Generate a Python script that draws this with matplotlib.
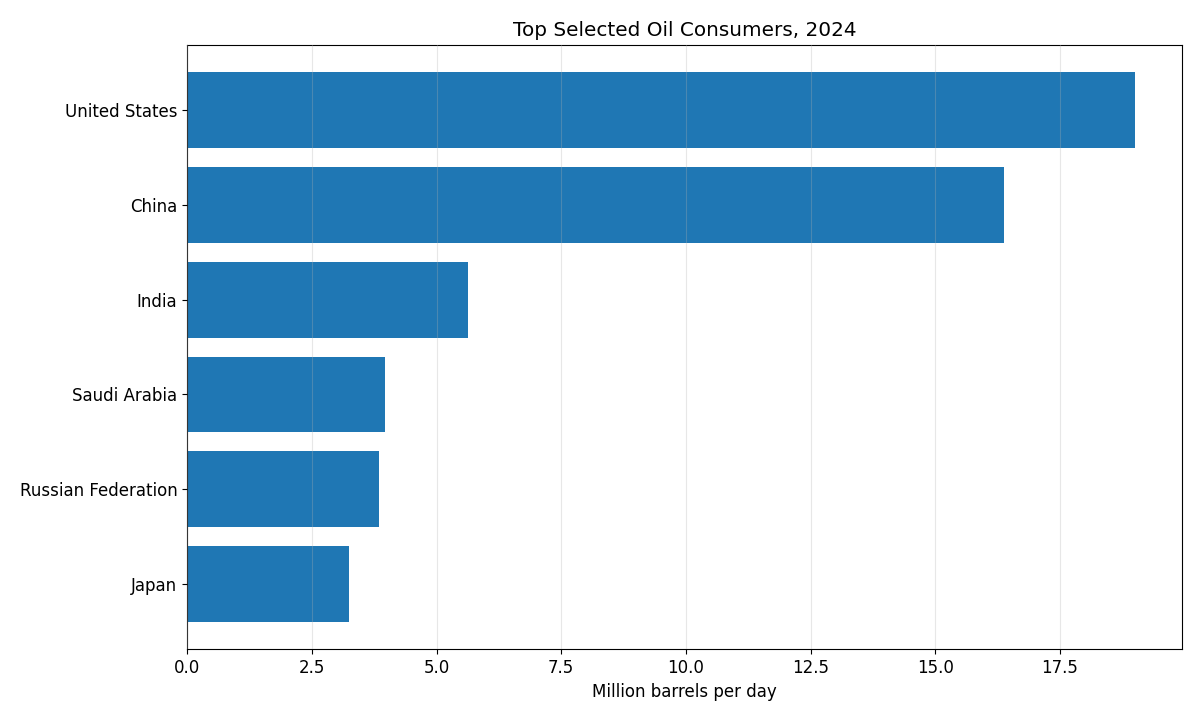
import matplotlib
matplotlib.use("Agg")
import matplotlib.pyplot as plt

plt.rcParams["font.family"] = ["DejaVu Sans"]

countries = ["United States", "China", "India", "Saudi Arabia", "Russian Federation", "Japan"]
values = [19.0, 16.38, 5.63, 3.97, 3.85, 3.25]

fig, ax = plt.subplots(figsize=(12, 7.2), dpi=100)
ax.barh(countries[::-1], values[::-1], color="#1f77b4")
ax.set_title("Top Selected Oil Consumers, 2024", fontsize=14.4)
ax.set_xlabel("Million barrels per day", fontsize=12)
ax.tick_params(labelsize=12)
ax.set_axisbelow(False)
ax.grid(axis="x", alpha=0.3)
fig.subplots_adjust(left=0.156, right=0.985, top=0.938, bottom=0.098)
fig.savefig("out.png")
